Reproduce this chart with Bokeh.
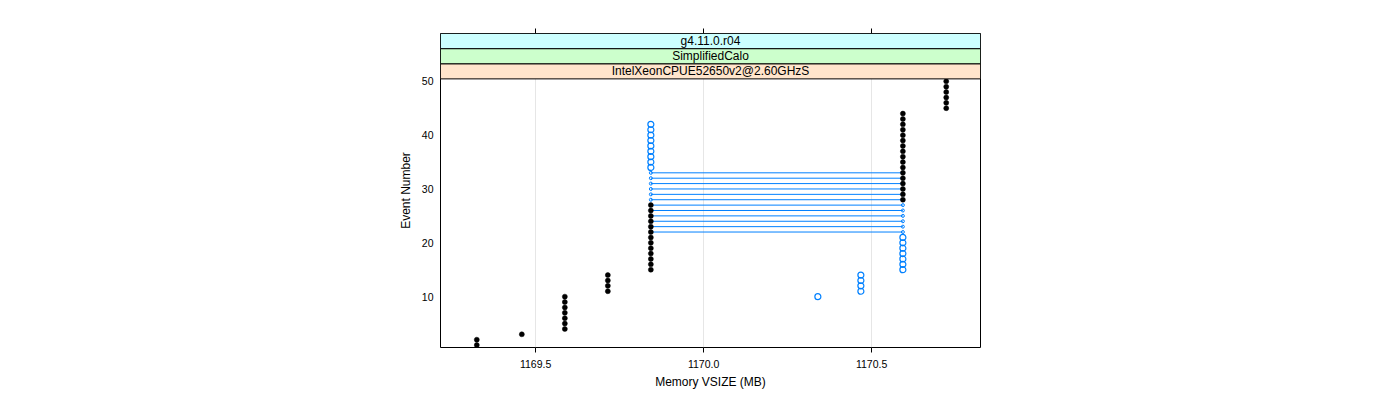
from bokeh.plotting import figure
from bokeh.models import Range1d, FixedTicker, LinearAxis, ColumnDataSource, PrintfTickFormatter
from bokeh.core.properties import value
from bokeh.embed import file_html
from bokeh.resources import INLINE

# ---- data ----
black_event = list(range(1, 51))
black_vsize = ([1169.325] * 2 + [1169.459] + [1169.587] * 7 + [1169.715] * 4 +
               [1169.843] * 13 + [1170.593] * 17 + [1170.722] * 6)

blue_event = [10, 11, 12, 13, 14, 15, 16, 17, 18, 19, 20, 21,
              34, 35, 36, 37, 38, 39, 40, 41, 42]
blue_vsize = ([1170.340] + [1170.468] * 4 + [1170.593] * 7 + [1169.843] * 9)

# events where the blue run jumps between the two levels (drawn as segments)
blue_jump_event = list(range(22, 34))
blue_jump_from = [1169.843] * 12
blue_jump_to = [1170.593] * 12

x_ticks = [1169.5, 1170.0, 1170.5]
y_ticks = [10, 20, 30, 40, 50]
strip_labels = ["IntelXeonCPUE52650v2@2.60GHzS", "SimplifiedCalo", "g4.11.0.r04"]
strip_colors = ["#ffe5cc", "#ccffcc", "#ccffff"]

FONT = "Liberation Sans"

x_lo, x_hi = 1169.217, 1170.824
y_lo, panel_top = 0.55, 50.45
y_hi = 58.88
strip_h = (y_hi - panel_top) / 3.0

p = figure(width=1400, height=400, output_backend="svg", toolbar_location=None,
           x_range=Range1d(x_lo, x_hi), y_range=Range1d(y_lo, y_hi),
           min_border_left=440, min_border_right=420,
           min_border_top=33, min_border_bottom=53,
           background_fill_color="white", border_fill_color="white")
p.outline_line_color = "#000000"
p.outline_line_width = 1

# axes
p.xaxis.ticker = FixedTicker(ticks=x_ticks)
p.xaxis.formatter = PrintfTickFormatter(format="%.1f")
p.yaxis.ticker = FixedTicker(ticks=y_ticks)
for ax in p.xaxis + p.yaxis:
    ax.axis_line_color = None
    ax.minor_tick_line_color = None
    ax.major_label_text_font = FONT
    ax.major_label_text_font_size = "10.5px"
    ax.major_label_text_color = "#000000"
    ax.axis_label_text_font = FONT
    ax.axis_label_text_font_size = "12px"
    ax.axis_label_text_font_style = "normal"
    ax.axis_label_text_color = "#000000"
p.xaxis.axis_label = "Memory VSIZE (MB)"
p.yaxis.axis_label = "Event Number"
p.xaxis.major_tick_out = 5
p.xaxis.major_tick_in = 0
p.xaxis.major_tick_line_color = "#000000"
p.xaxis.major_label_standoff = 7
p.xaxis.axis_label_standoff = 4
p.yaxis.major_tick_line_color = None
p.yaxis.major_tick_out = 0
p.yaxis.major_tick_in = 0
p.yaxis.major_label_standoff = 7
p.yaxis.axis_label_standoff = 6

top_ax = LinearAxis(ticker=FixedTicker(ticks=x_ticks))
top_ax.axis_line_color = None
top_ax.major_tick_out = 5
top_ax.major_tick_in = 0
top_ax.major_tick_line_color = "#000000"
top_ax.minor_tick_line_color = None
top_ax.major_label_text_color = None
top_ax.major_label_text_font_size = "1px"
p.add_layout(top_ax, "above")

p.xgrid.ticker = FixedTicker(ticks=x_ticks)
p.xgrid.grid_line_color = "#e6e6e6"
p.ygrid.grid_line_color = None

# blue jump segments
p.segment(x0=blue_jump_from, y0=blue_jump_event, x1=blue_jump_to, y1=blue_jump_event,
          line_color="#0080ff", line_width=1)
p.scatter(blue_jump_from + blue_jump_to, blue_jump_event + blue_jump_event,
          size=3, marker="circle", fill_color=None, line_color="#0080ff", line_width=1)

# black series
p.scatter(black_vsize, black_event, size=5, marker="circle",
          fill_color="#000000", line_color="#000000", line_width=0.5)
# blue series
p.scatter(blue_vsize, blue_event, size=6, marker="circle",
          fill_color=None, line_color="#0080ff", line_width=1.2)

# strips
sb = [panel_top + i * strip_h for i in range(3)]
st = [b + strip_h for b in sb]
src = ColumnDataSource(dict(bottom=sb, top=st, color=strip_colors, label=strip_labels,
                            mid=[(b + t) / 2 for b, t in zip(sb, st)],
                            xm=[(x_lo + x_hi) / 2] * 3,
                            left=[x_lo] * 3, right=[x_hi] * 3))
p.quad(left="left", right="right", bottom="bottom", top="top", fill_color="color",
       line_color="#000000", line_width=1, source=src)
p.text(x="xm", y="mid", text="label", source=src, text_font=value(FONT),
       text_font_size="12px", text_align="center", text_baseline="middle",
       text_color="#000000")

open("out.html", "w").write(file_html(p, INLINE))
